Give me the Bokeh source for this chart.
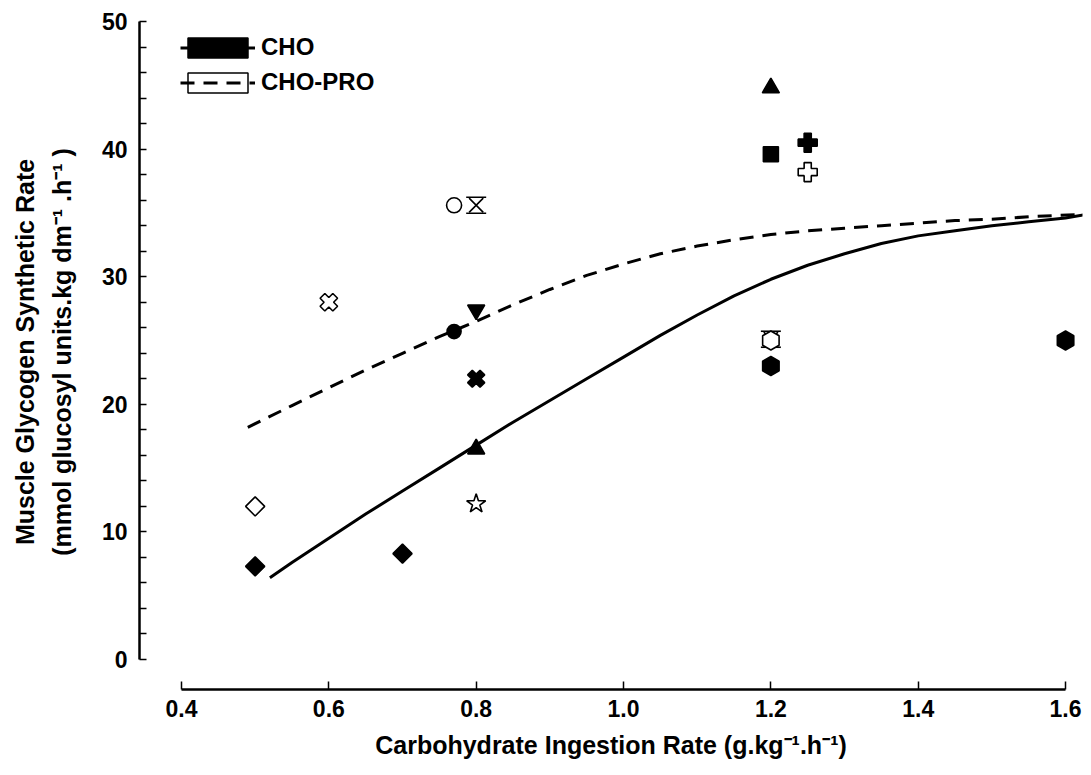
from bokeh.plotting import figure
from bokeh.models import Range1d, FixedTicker, Legend, LegendItem, LinearAxis
from bokeh.embed import file_html
from bokeh.resources import INLINE
import math

FONT = "Liberation Sans"

# ---- fitted curves ----
cho_curve_x = [0.52, 0.55, 0.60, 0.65, 0.70, 0.75, 0.80, 0.85, 0.90, 0.95, 1.00, 1.05,
               1.10, 1.15, 1.20, 1.25, 1.30, 1.35, 1.40, 1.45, 1.50, 1.55, 1.60, 1.63]
cho_curve_y = [6.4, 7.6, 9.5, 11.4, 13.2, 15.0, 16.8, 18.6, 20.3, 22.0, 23.7, 25.4,
               27.0, 28.5, 29.8, 30.9, 31.8, 32.6, 33.2, 33.6, 34.0, 34.3, 34.6, 34.9]
pro_curve_x = [0.49, 0.55, 0.60, 0.65, 0.70, 0.75, 0.80, 0.85, 0.90, 0.95, 1.00, 1.05,
               1.10, 1.15, 1.20, 1.25, 1.30, 1.35, 1.40, 1.45, 1.50, 1.55, 1.63]
pro_curve_y = [18.2, 19.9, 21.3, 22.7, 24.0, 25.3, 26.5, 27.8, 29.0, 30.1, 31.0, 31.8,
               32.4, 32.9, 33.3, 33.6, 33.8, 34.0, 34.2, 34.4, 34.5, 34.7, 34.9]

# ---- CHO studies (filled symbols) ----
cho_diamond_x = [0.5, 0.7]
cho_diamond_y = [7.3, 8.3]
cho_triangle_x = [0.8, 1.2]
cho_triangle_y = [16.5, 44.8]
cho_invtri_x = [0.8]
cho_invtri_y = [27.4]
cho_circle_x = [0.77]
cho_circle_y = [25.7]
cho_cross_x = [0.8]
cho_cross_y = [22.0]
cho_square_x = [1.2]
cho_square_y = [39.6]
cho_plus_x = [1.25]
cho_plus_y = [40.5]
cho_hex_x = [1.2, 1.6]
cho_hex_y = [23.0, 25.0]

# ---- CHO-PRO studies (open symbols) ----
pro_diamond_x = [0.5]
pro_diamond_y = [12.0]
pro_star_x = [0.8]
pro_star_y = [12.2]
pro_cross_x = [0.6]
pro_cross_y = [28.0]
pro_circle_x = [0.77]
pro_circle_y = [35.6]
pro_hourglass_x = [0.8, 1.2]
pro_hourglass_y = [35.6, 25.1]
pro_plus_x = [1.25]
pro_plus_y = [38.2]
pro_hex_x = [1.2]
pro_hex_y = [25.0]

x_ticks = [0.4, 0.6, 0.8, 1.0, 1.2, 1.4, 1.6]
x_tick_labels = ["0.4", "0.6", "0.8", "1.0", "1.2", "1.4", "1.6"]
y_ticks = [0, 10, 20, 30, 40, 50]
y_minor_ticks = [2, 4, 6, 8, 12, 14, 16, 18, 22, 24, 26, 28, 32, 34, 36, 38, 42, 44, 46, 48]

p = figure(width=1087, height=767, title=None,
           x_range=Range1d(0.343, 1.623), y_range=Range1d(-2.35, 50.55),
           output_backend="svg", toolbar_location=None,
           min_border_left=139, min_border_right=5, min_border_top=14, min_border_bottom=78)
p.grid.visible = False
p.outline_line_color = None
p.background_fill_color = "white"
p.border_fill_color = "white"

# x axis
xa = p.xaxis[0]
xa.ticker = FixedTicker(ticks=x_ticks)
xa.major_label_overrides = {t: l for t, l in zip(x_ticks, x_tick_labels)}
xa.bounds = (0.4, 1.6)
xa.axis_line_width = 2.5
xa.major_tick_in = 8
xa.major_tick_out = 0
xa.minor_tick_in = 0
xa.minor_tick_out = 0
xa.major_tick_line_width = 1.5
xa.major_label_standoff = 10
xa.major_label_text_font = FONT
xa.major_label_text_font_style = "bold"
xa.major_label_text_font_size = "23px"
xa.major_label_text_color = "black"
xa.axis_label = "Carbohydrate Ingestion Rate (g.kg\u207b\u00b9.h\u207b\u00b9)"
xa.axis_label_text_font = FONT
xa.axis_label_text_font_style = "bold"
xa.axis_label_text_font_size = "25px"
xa.axis_label_text_color = "black"
xa.axis_label_standoff = 11

# y axis (second title line sits next to the tick labels)
ya = p.yaxis[0]
ya.ticker = FixedTicker(ticks=y_ticks, minor_ticks=y_minor_ticks)
ya.bounds = (0, 50)
ya.axis_line_width = 2.5
ya.major_tick_in = 7
ya.major_tick_out = 0
ya.minor_tick_in = 7
ya.minor_tick_out = 0
ya.major_tick_line_width = 1.5
ya.minor_tick_line_width = 1.5
ya.minor_tick_line_color = "black"
ya.major_label_standoff = 12
ya.major_label_text_font = FONT
ya.major_label_text_font_style = "bold"
ya.major_label_text_font_size = "23px"
ya.major_label_text_color = "black"
ya.axis_label = "(mmol glucosyl units.kg dm\u207b\u00b9 .h\u207b\u00b9 )"
ya.axis_label_text_font = FONT
ya.axis_label_text_font_style = "bold"
ya.axis_label_text_font_size = "25px"
ya.axis_label_text_color = "black"
ya.axis_label_standoff = 23

# outer axis carrying only the first title line
ya2 = LinearAxis(ticker=FixedTicker(ticks=[]), axis_line_color=None,
                 major_tick_line_color=None, minor_tick_line_color=None,
                 major_tick_in=0, major_tick_out=0, minor_tick_in=0, minor_tick_out=0,
                 major_label_standoff=0, major_label_text_font_size="0px",
                 axis_label="Muscle Glycogen Synthetic Rate",
                 axis_label_text_font=FONT, axis_label_text_font_style="bold",
                 axis_label_text_font_size="25px", axis_label_text_color="black",
                 axis_label_standoff=6)
p.add_layout(ya2, "left")

# curves
l_cho = p.line(cho_curve_x, cho_curve_y, line_width=3, line_color="black")
l_pro = p.line(pro_curve_x, pro_curve_y, line_width=3, line_color="black", line_dash="14 9")

LW = 1.6
D45 = math.pi / 4
HEXROT = math.pi / 2

# filled markers
p.scatter(cho_diamond_x, cho_diamond_y, marker="square", angle=D45, size=13.5,
          fill_color="black", line_color="black", line_width=LW)
p.scatter(cho_triangle_x, cho_triangle_y, marker="triangle", size=17,
          fill_color="black", line_color="black", line_width=LW)
p.scatter(cho_invtri_x, cho_invtri_y, marker="inverted_triangle", size=17,
          fill_color="black", line_color="black", line_width=LW)
p.scatter(cho_circle_x, cho_circle_y, marker="circle", size=14,
          fill_color="black", line_color="black", line_width=LW)
p.scatter(cho_cross_x, cho_cross_y, marker="plus", angle=D45, size=17.5,
          fill_color="black", line_color="black", line_width=LW)
p.scatter(cho_square_x, cho_square_y, marker="square", size=15,
          fill_color="black", line_color="black", line_width=LW)
p.scatter(cho_plus_x, cho_plus_y, marker="plus", size=19,
          fill_color="black", line_color="black", line_width=LW)
p.scatter(cho_hex_x, cho_hex_y, marker="hex", angle=HEXROT, size=19,
          fill_color="black", line_color="black", line_width=LW)

# open markers
p.scatter(pro_diamond_x, pro_diamond_y, marker="square", angle=D45, size=13.5,
          fill_color="white", line_color="black", line_width=LW)
p.scatter(pro_star_x, pro_star_y, marker="star", size=20,
          fill_color="white", line_color="black", line_width=LW)
p.scatter(pro_cross_x, pro_cross_y, marker="plus", angle=D45, size=18,
          fill_color="white", line_color="black", line_width=LW)
p.scatter(pro_circle_x, pro_circle_y, marker="circle", size=15,
          fill_color="white", line_color="black", line_width=LW)
# hourglass symbol: crossing diagonals with top and bottom bars
hg_half = 8 / 12.76  # half symbol height (8 px) in data units
p.scatter(pro_hourglass_x, pro_hourglass_y, marker="x", size=20,
          line_color="black", line_width=LW)
p.scatter(pro_hourglass_x, [v + hg_half for v in pro_hourglass_y], marker="dash", size=20,
          line_color="black", line_width=LW)
p.scatter(pro_hourglass_x, [v - hg_half for v in pro_hourglass_y], marker="dash", size=20,
          line_color="black", line_width=LW)
p.scatter(pro_plus_x, pro_plus_y, marker="plus", size=19,
          fill_color="white", line_color="black", line_width=LW)
p.scatter(pro_hex_x, pro_hex_y, marker="hex", angle=HEXROT, size=19,
          fill_color="white", line_color="black", line_width=LW)

# legend boxes (hidden renderers, only their legend glyph is drawn)
box_cho = p.rect(cho_curve_x, cho_curve_y, width=0.01, height=1,
                 fill_color="black", line_color="black", line_width=1.5, visible=False)
box_pro = p.rect(pro_curve_x, pro_curve_y, width=0.01, height=1,
                 fill_color="white", line_color="black", line_width=1.5, visible=False)

legend = Legend(items=[LegendItem(label="CHO", renderers=[box_cho, l_cho]),
                       LegendItem(label="CHO-PRO", renderers=[box_pro, l_pro])],
                location=(41, 593), orientation="vertical",
                glyph_width=75, glyph_height=25, label_height=25, spacing=7,
                label_standoff=6, padding=0, margin=0,
                border_line_color=None, background_fill_alpha=0,
                label_text_font=FONT, label_text_font_style="bold",
                label_text_font_size="24px", label_text_color="black")
p.add_layout(legend)

open("out.html", "w").write(file_html(p, INLINE))
